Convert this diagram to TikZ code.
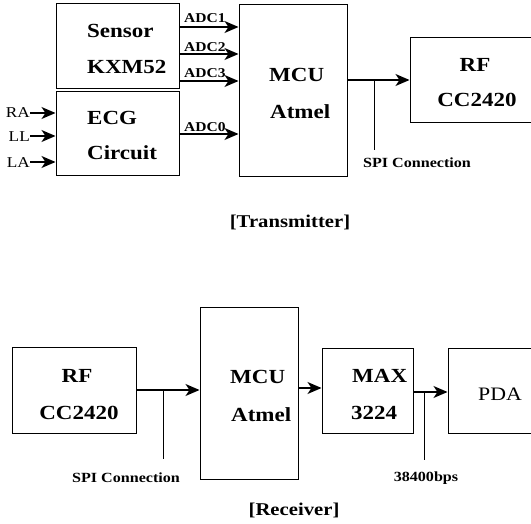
\documentclass[tikz,border=0pt]{standalone}
\usepackage{fontspec}
\setmainfont{Liberation Serif}
\newfontfamily\widefont[FakeStretch=1.15]{Liberation Serif}
\usetikzlibrary{arrows.meta}
\tikzset{
  box/.style={draw, line width=1pt, inner sep=0pt, rectangle},
  lbl/.style={font=\widefont\fontsize{20}{22}\selectfont\bfseries, inner sep=0pt},
  plbl/.style={font=\widefont\fontsize{19}{21}\selectfont, inner sep=0pt},
  adc/.style={font=\widefont\fontsize{13.5}{15}\selectfont\bfseries, inner sep=0pt, anchor=base west},
  inlbl/.style={font=\widefont\fontsize{15}{17}\selectfont, inner sep=0pt, anchor=base east},
  smalllbl/.style={font=\widefont\fontsize{14}{16}\selectfont\bfseries, inner sep=0pt, anchor=base},
  captionlbl/.style={font=\widefont\fontsize{18}{20}\selectfont\bfseries, inner sep=0pt, anchor=base},
  arr/.style={line width=1.3pt, -{Stealth[length=14pt,width=12pt,inset=4pt]}},
  tap/.style={line width=1pt},
}
\begin{document}
\begin{tikzpicture}[x=1pt,y=-1pt]
\useasboundingbox (0,0) rectangle (531,524);
% ---------- Transmitter ----------
\node[box, minimum width=123pt, minimum height=85pt] (sensor) at (117.5,46.5) {};
\node[box, minimum width=123pt, minimum height=84pt] (ecg) at (117.5,134) {};
\node[box, minimum width=108pt, minimum height=172pt] (mcut) at (293,91) {};
\node[box, minimum width=131pt, minimum height=85pt] (rft) at (475.5,80.5) {};

\node[lbl, anchor=base west] (sensorA) at (87,38) {Sensor};
\node[lbl, anchor=base west] (sensorB) at (87,74) {KXM52};
\node[lbl, anchor=base west] (ecgA) at (87,125) {ECG};
\node[lbl, anchor=base west] (ecgB) at (87,160) {Circuit};
\node[lbl, anchor=base west] (mcutA) at (269,82) {MCU};
\node[lbl, anchor=base west] (mcutB) at (270,119) {Atmel};
\node[lbl, anchor=base] (rftA) at (475,72) {RF};
\node[lbl, anchor=base] (rftB) at (477,107) {CC2420};

% ADC arrows
\coordinate (a1) at (179,27);
\coordinate (a2) at (179,54);
\coordinate (a3) at (179,81);
\coordinate (a0) at (179,134);
\draw[arr] (a1) -- (mcut.west |- a1);
\draw[arr] (a2) -- (mcut.west |- a2);
\draw[arr] (a3) -- (mcut.west |- a3);
\draw[arr] (a0) -- (mcut.west |- a0);
\node[adc] (adc1) at (184,23) {ADC1};
\node[adc] (adc2) at (184,51.5) {ADC2};
\node[adc] (adc3) at (184,77.5) {ADC3};
\node[adc] (adc0) at (184,131.5) {ADC0};

% RA LL LA inputs
\node[inlbl] (ra) at (30,118) {RA};
\node[inlbl] (ll) at (30,141.5) {LL};
\node[inlbl] (la) at (30,167.5) {LA};
\draw[arr] (ra.east |- 0,113) -- (ecg.west |- 0,113);
\draw[arr] (ll.east |- 0,136) -- (ecg.west |- 0,136);
\draw[arr] (la.east |- 0,162) -- (ecg.west |- 0,162);

% MCU -> RF
\coordinate (t1) at (347,80);
\draw[arr] (t1) -- (rft.west |- t1);
\coordinate (spiT) at (374,80);
\coordinate (spiTe) at (374,150);
\draw[tap] (spiT) -- (spiTe);
\node[smalllbl] (spitxt) at (417,168) {SPI Connection};
\node[captionlbl] (captT) at (290,227.5) {[Transmitter]};

% ---------- Receiver ----------
\node[box, minimum width=124pt, minimum height=85pt] (rfr) at (74,390.5) {};
\node[box, minimum width=98pt, minimum height=171pt] (mcur) at (249,393.5) {};
\node[box, minimum width=91pt, minimum height=84pt] (max) at (367.5,391) {};
\node[box, minimum width=92pt, minimum height=84pt] (pda) at (494,391) {};

\node[lbl, anchor=base] (rfrA) at (77,382) {RF};
\node[lbl, anchor=base] (rfrB) at (79,419) {CC2420};
\node[lbl, anchor=base west] (mcurA) at (230,384) {MCU};
\node[lbl, anchor=base west] (mcurB) at (231,421) {Atmel};
\node[lbl, anchor=base west] (maxA) at (352,382) {MAX};
\node[lbl, anchor=base west] (maxB) at (351,419) {3224};
\node[plbl, anchor=base] (pdaA) at (500,400.5) {PDA};

\coordinate (r1) at (136,390);
\draw[arr] (r1) -- (mcur.west |- r1);
\coordinate (spiR) at (163,390);
\coordinate (spiRe) at (163,459);
\draw[tap] (spiR) -- (spiRe);
\node[smalllbl] (spirtxt) at (126,482) {SPI Connection};

\coordinate (r2) at (298,388);
\draw[arr] (r2) -- (max.west |- r2);

\coordinate (r3) at (413,392);
\draw[arr] (r3) -- (pda.west |- r3);
\coordinate (bps) at (424,392);
\coordinate (bpse) at (424,460);
\draw[tap] (bps) -- (bpse);
\node[smalllbl] (bpstxt) at (426,481) {38400bps};
\node[captionlbl] (captR) at (294,515) {[Receiver]};
\end{tikzpicture}
\end{document}
